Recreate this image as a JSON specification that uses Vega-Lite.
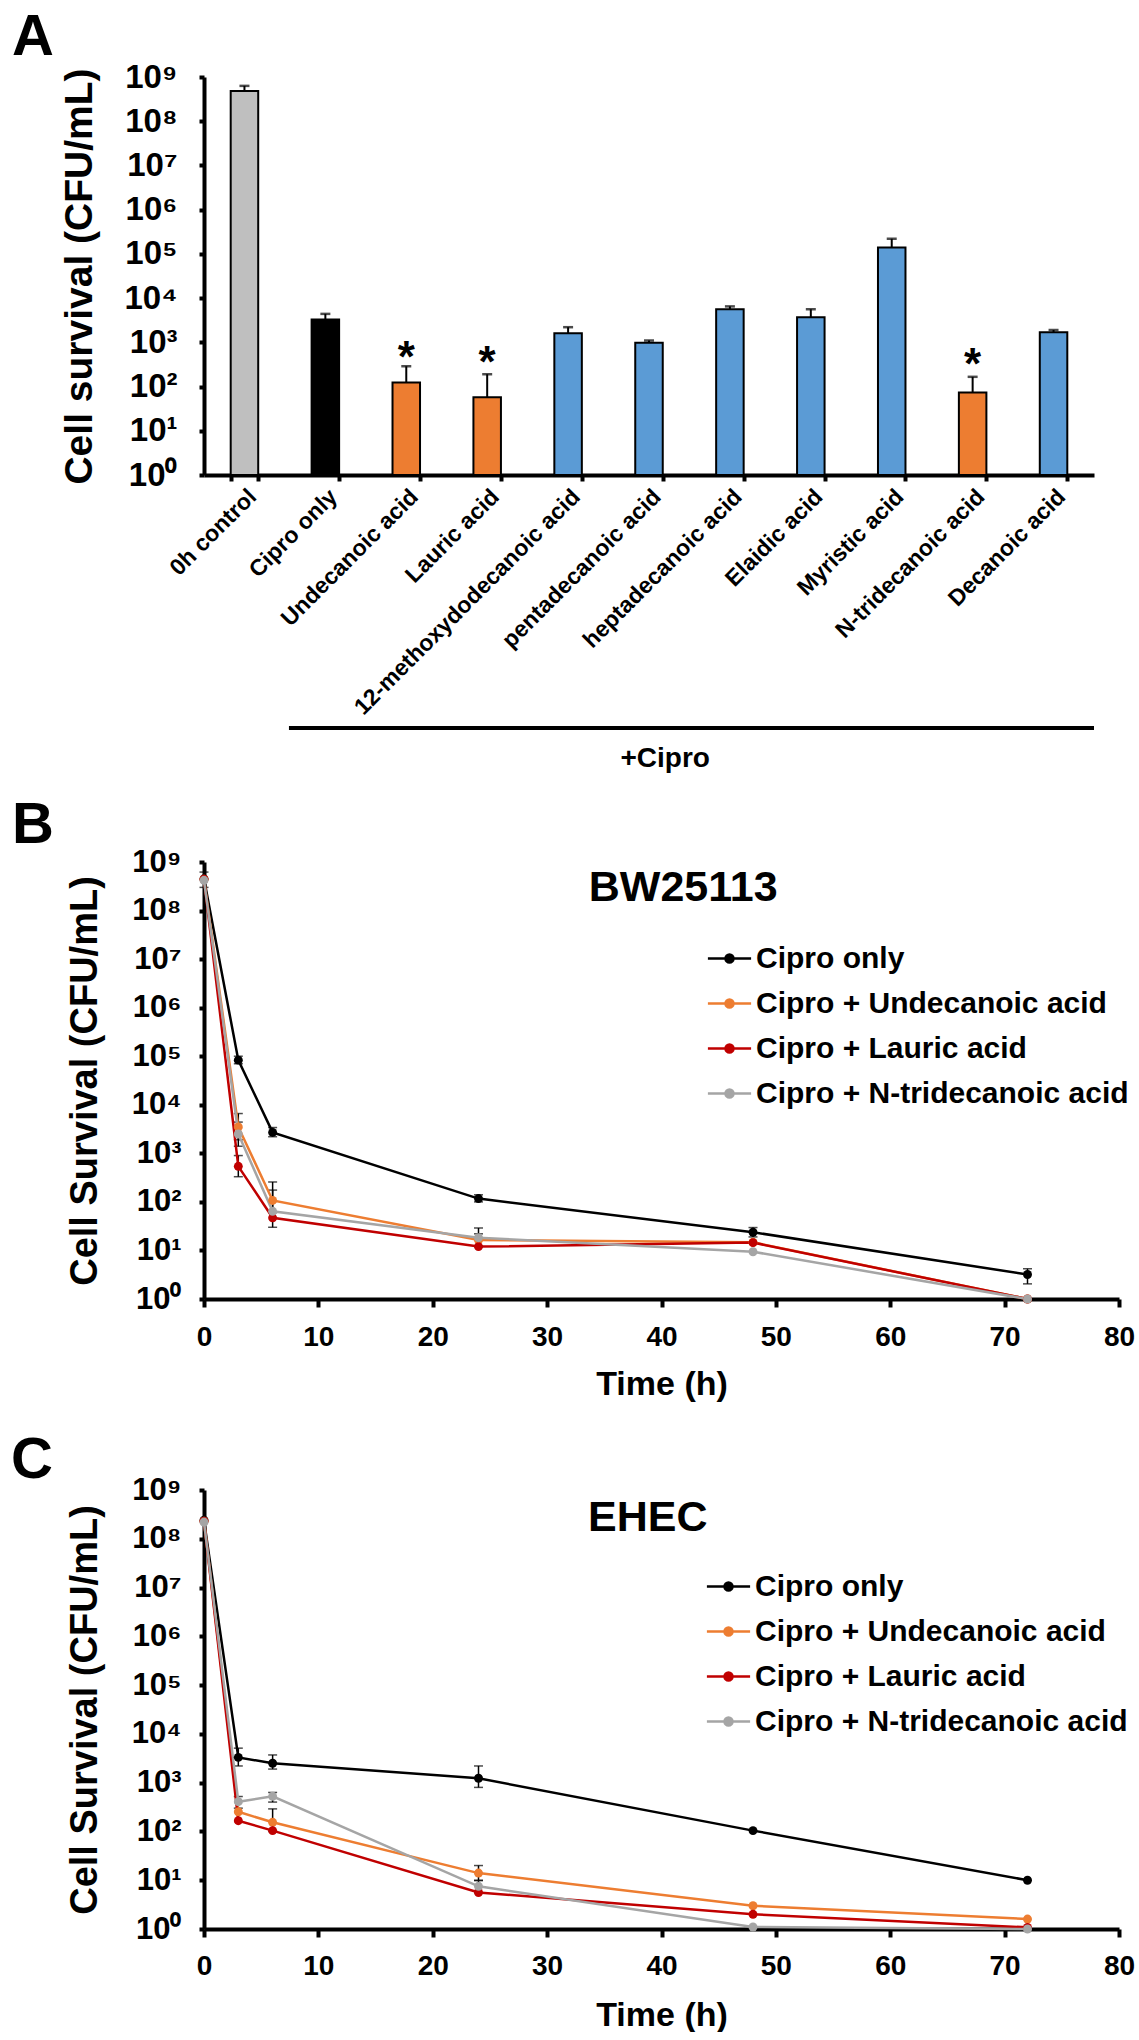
{
"$schema":"https://vega.github.io/schema/vega-lite/v6.json",
"background":"white",
"padding":{"left":11,"top":9,"right":0,"bottom":0},
"config":{
 "font":"Liberation Sans",
 "view":{"stroke":null},
 "axis":{"domainColor":"#000","domainWidth":4,"tickColor":"#000","tickWidth":4,"tickSize":6,"labelColor":"#000","labelFontWeight":"bold","titleColor":"#000","titleFontWeight":"bold","grid":false,"labelFlush":false,"labelOverlap":false,"labelLimit":0},
 "title":{"color":"#000","fontWeight":"bold","fontSize":58,"anchor":"start","frame":"group","baseline":"bottom"}
},
"datasets":{
 "bars":[
  {"c":"0h control","v":480000000,"hi":630000000,"g":"control"},
  {"c":"Cipro only","v":3300,"hi":4400,"g":"cipro"},
  {"c":"Undecanoic acid","v":124,"hi":288,"g":"sig","star":420},
  {"c":"Lauric acid","v":57,"hi":190,"g":"sig","star":325},
  {"c":"12-methoxydodecanoic acid","v":1600,"hi":2200,"g":"ns"},
  {"c":"pentadecanoic acid","v":980,"hi":1100,"g":"ns"},
  {"c":"heptadecanoic acid","v":5600,"hi":6500,"g":"ns"},
  {"c":"Elaidic acid","v":3700,"hi":5600,"g":"ns"},
  {"c":"Myristic acid","v":140000,"hi":220000,"g":"ns"},
  {"c":"N-tridecanoic acid","v":73,"hi":166,"g":"sig","star":293},
  {"c":"Decanoic acid","v":1700,"hi":1900,"g":"ns"}
 ],
 "bracket":[
  {"kind":"line","x":1.05,"x2":11,"v":0.0000019},
  {"kind":"text","x":5.7,"v":0.00000025,"label":"+Cipro"}
 ],
 "B":[
  {"s":"Cipro only","t":0,"v":450000000,"lo":300000000,"hi":620000000},
  {"s":"Cipro only","t":3,"v":83000,"lo":70000,"hi":100000},
  {"s":"Cipro only","t":6,"v":2700,"lo":2200,"hi":3400},
  {"s":"Cipro only","t":24,"v":117,"lo":100,"hi":140},
  {"s":"Cipro only","t":48,"v":23.7,"lo":19,"hi":29.6},
  {"s":"Cipro only","t":72,"v":3.2,"lo":2.05,"hi":4.2},
  {"s":"Cipro + Undecanoic acid","t":0,"v":440000000},
  {"s":"Cipro + Undecanoic acid","t":3,"v":3500,"lo":1900,"hi":6600},
  {"s":"Cipro + Undecanoic acid","t":6,"v":107,"lo":60,"hi":257},
  {"s":"Cipro + Undecanoic acid","t":24,"v":16.4,"lo":12,"hi":22},
  {"s":"Cipro + Undecanoic acid","t":48,"v":14.7},
  {"s":"Cipro + Undecanoic acid","t":72,"v":1},
  {"s":"Cipro + Lauric acid","t":0,"v":440000000},
  {"s":"Cipro + Lauric acid","t":3,"v":540,"lo":330,"hi":900},
  {"s":"Cipro + Lauric acid","t":6,"v":47},
  {"s":"Cipro + Lauric acid","t":24,"v":12},
  {"s":"Cipro + Lauric acid","t":48,"v":14.5},
  {"s":"Cipro + Lauric acid","t":72,"v":1},
  {"s":"Cipro + N-tridecanoic acid","t":0,"v":420000000},
  {"s":"Cipro + N-tridecanoic acid","t":3,"v":2500,"lo":1400,"hi":4400},
  {"s":"Cipro + N-tridecanoic acid","t":6,"v":64,"lo":30,"hi":175},
  {"s":"Cipro + N-tridecanoic acid","t":24,"v":18.3,"lo":12,"hi":29},
  {"s":"Cipro + N-tridecanoic acid","t":48,"v":9.4},
  {"s":"Cipro + N-tridecanoic acid","t":72,"v":1}
 ],
 "C":[
  {"s":"Cipro only","t":0,"v":240000000},
  {"s":"Cipro only","t":3,"v":3300,"lo":2200,"hi":5100},
  {"s":"Cipro only","t":6,"v":2500,"lo":1900,"hi":3700},
  {"s":"Cipro only","t":24,"v":1230,"lo":800,"hi":2200},
  {"s":"Cipro only","t":48,"v":104},
  {"s":"Cipro only","t":72,"v":10},
  {"s":"Cipro + Undecanoic acid","t":0,"v":230000000},
  {"s":"Cipro + Undecanoic acid","t":3,"v":253},
  {"s":"Cipro + Undecanoic acid","t":6,"v":154,"lo":100,"hi":290},
  {"s":"Cipro + Undecanoic acid","t":24,"v":14,"lo":10,"hi":20},
  {"s":"Cipro + Undecanoic acid","t":48,"v":3.0},
  {"s":"Cipro + Undecanoic acid","t":72,"v":1.6},
  {"s":"Cipro + Lauric acid","t":0,"v":230000000},
  {"s":"Cipro + Lauric acid","t":3,"v":166},
  {"s":"Cipro + Lauric acid","t":6,"v":104},
  {"s":"Cipro + Lauric acid","t":24,"v":5.6},
  {"s":"Cipro + Lauric acid","t":48,"v":2.0},
  {"s":"Cipro + Lauric acid","t":72,"v":1.08},
  {"s":"Cipro + N-tridecanoic acid","t":0,"v":220000000},
  {"s":"Cipro + N-tridecanoic acid","t":3,"v":407,"lo":300,"hi":520},
  {"s":"Cipro + N-tridecanoic acid","t":6,"v":525,"lo":400,"hi":630},
  {"s":"Cipro + N-tridecanoic acid","t":24,"v":7.5,"lo":5.5,"hi":9.8},
  {"s":"Cipro + N-tridecanoic acid","t":48,"v":1.1},
  {"s":"Cipro + N-tridecanoic acid","t":72,"v":1}
 ]
},
"vconcat":[
 {
  "width":890,"height":398,
  "title":{"text":"A","offset":-6,"dx":-192},
  "layer":[
   {
    "data":{"name":"bars"},
    "encoding":{
     "x":{"field":"c","type":"nominal","sort":null,"scale":{"paddingInner":0.66,"paddingOuter":0.33},"axis":{"title":null,"labelAngle":-45,"labelFontSize":23,"tickBand":"extent","labelPadding":4}},
     "y":{"field":"v","type":"quantitative","scale":{"type":"log","domain":[1,1000000000],"nice":false},"axis":{"title":"Cell survival (CFU/mL)","titleFontSize":39,"labelFontSize":33,"values":[1,10,100,1000,10000,100000,1000000,10000000,100000000,1000000000],"labelExpr":"'10' + ['⁰','¹','²','³','⁴','⁵','⁶','⁷','⁸','⁹'][round(log(datum.value)/LN10)]","tickSize":5,"labelPadding":22,"titlePadding":24}}
    },
    "layer":[
     {"mark":{"type":"bar","stroke":"#000","strokeWidth":2},"encoding":{"y2":{"datum":1},"fill":{"field":"g","type":"nominal","scale":{"domain":["control","cipro","sig","ns"],"range":["#BFBFBF","#000000","#ED7D31","#5B9BD5"]},"legend":null}}},
     {"mark":{"type":"rule","color":"#000","strokeWidth":2},"encoding":{"y2":{"field":"hi"}}},
     {"mark":{"type":"tick","orient":"horizontal","color":"#000","size":10,"thickness":2.5},"encoding":{"y":{"field":"hi","type":"quantitative","scale":{"type":"log","domain":[1,1000000000]}}}},
     {"transform":[{"filter":"isValid(datum.star)"}],"mark":{"type":"text","text":"*","fontSize":44,"fontWeight":"bold","baseline":"middle","color":"#000"},"encoding":{"y":{"field":"star","type":"quantitative","scale":{"type":"log","domain":[1,1000000000]}}}}
    ]
   },
   {
    "data":{"name":"bracket"},
    "encoding":{
     "x":{"field":"x","type":"quantitative","scale":{"domain":[0,11],"nice":false,"zero":false},"axis":null},
     "y":{"field":"v","type":"quantitative","scale":{"type":"log","domain":[1,1000000000]}}
    },
    "layer":[
     {"transform":[{"filter":"datum.kind==='line'"}],"mark":{"type":"rule","color":"#000","strokeWidth":4},"encoding":{"x2":{"field":"x2"}}},
     {"transform":[{"filter":"datum.kind==='text'"}],"mark":{"type":"text","fontSize":28,"fontWeight":"bold","baseline":"alphabetic","color":"#000"},"encoding":{"text":{"field":"label"}}}
    ]
   }
  ],
  "resolve":{"scale":{"x":"independent"}}
 },
 {
  "vconcat":[
   {
    "width":915,"height":437,
    "title":{"text":"B","offset":-9,"dx":-192},
    "data":{"name":"B"},
    "encoding":{
     "x":{"field":"t","type":"quantitative","scale":{"domain":[0,80],"nice":false},"axis":{"title":"Time (h)","titleFontSize":34,"labelFontSize":28,"values":[0,10,20,30,40,50,60,70,80],"tickSize":8,"labelPadding":16,"titlePadding":16}},
     "y":{"field":"v","type":"quantitative","scale":{"type":"log","domain":[1,1000000000],"nice":false},"axis":{"title":"Cell Survival (CFU/mL)","titleFontSize":38,"labelFontSize":31,"values":[1,10,100,1000,10000,100000,1000000,10000000,100000000,1000000000],"labelExpr":"'10' + ['⁰','¹','²','³','⁴','⁵','⁶','⁷','⁸','⁹'][round(log(datum.value)/LN10)]","tickSize":5,"labelPadding":18,"titlePadding":27}}
    },
    "layer":[
     {"transform":[{"filter":"isValid(datum.lo)"}],"mark":{"type":"rule","color":"#000","strokeWidth":1.5},"encoding":{"y":{"field":"lo","type":"quantitative","scale":{"type":"log","domain":[1,1000000000]}},"y2":{"field":"hi"}}},
     {"transform":[{"filter":"isValid(datum.lo)"}],"mark":{"type":"tick","orient":"horizontal","color":"#000","size":9,"thickness":1.5},"encoding":{"y":{"field":"hi","type":"quantitative","scale":{"type":"log","domain":[1,1000000000]}}}},
     {"transform":[{"filter":"isValid(datum.lo)"}],"mark":{"type":"tick","orient":"horizontal","color":"#000","size":9,"thickness":1.5},"encoding":{"y":{"field":"lo","type":"quantitative","scale":{"type":"log","domain":[1,1000000000]}}}},
     {"mark":{"type":"line","strokeWidth":2.5},"encoding":{"color":{"field":"s","type":"nominal","scale":{"domain":["Cipro only","Cipro + Undecanoic acid","Cipro + Lauric acid","Cipro + N-tridecanoic acid"],"range":["#000000","#ED7D31","#C00000","#A5A5A5"]},"legend":{"orient":"none","legendX":504,"legendY":75,"title":null,"symbolType":"M-1.08,0H1.08M0.2,0A0.2,0.2,0,1,1,-0.2,0A0.2,0.2,0,1,1,0.2,0Z","symbolSize":1600,"symbolStrokeWidth":2.5,"labelFontSize":30,"labelFontWeight":"bold","labelColor":"#000","labelLimit":0,"labelOffset":5,"rowPadding":8,"padding":0,"encode":{"symbols":{"update":{"stroke":{"signal":"datum.value==='Cipro only'?'#000000':datum.value==='Cipro + Undecanoic acid'?'#ED7D31':datum.value==='Cipro + Lauric acid'?'#C00000':'#A5A5A5'"},"fill":{"signal":"datum.value==='Cipro only'?'#000000':datum.value==='Cipro + Undecanoic acid'?'#ED7D31':datum.value==='Cipro + Lauric acid'?'#C00000':'#A5A5A5'"},"opacity":{"value":1}}}}}}}},
     {"mark":{"type":"point","filled":true,"size":80,"opacity":1},"encoding":{"color":{"field":"s","type":"nominal","scale":{"domain":["Cipro only","Cipro + Undecanoic acid","Cipro + Lauric acid","Cipro + N-tridecanoic acid"],"range":["#000000","#ED7D31","#C00000","#A5A5A5"]}}}},
     {"data":{"values":[{"label":"BW25113","t":41.9,"v":156000000}]},"mark":{"type":"text","fontSize":43,"fontWeight":"bold","color":"#000","baseline":"alphabetic","align":"center"},"encoding":{"text":{"field":"label"}}}
    ]
   },
   {
    "width":915,"height":439,
    "title":{"text":"C","offset":-16,"dx":-193},
    "data":{"name":"C"},
    "encoding":{
     "x":{"field":"t","type":"quantitative","scale":{"domain":[0,80],"nice":false},"axis":{"title":"Time (h)","titleFontSize":34,"labelFontSize":28,"values":[0,10,20,30,40,50,60,70,80],"tickSize":8,"labelPadding":15,"titlePadding":18}},
     "y":{"field":"v","type":"quantitative","scale":{"type":"log","domain":[1,1000000000],"nice":false},"axis":{"title":"Cell Survival (CFU/mL)","titleFontSize":38,"labelFontSize":31,"values":[1,10,100,1000,10000,100000,1000000,10000000,100000000,1000000000],"labelExpr":"'10' + ['⁰','¹','²','³','⁴','⁵','⁶','⁷','⁸','⁹'][round(log(datum.value)/LN10)]","tickSize":5,"labelPadding":18,"titlePadding":27}}
    },
    "layer":[
     {"transform":[{"filter":"isValid(datum.lo)"}],"mark":{"type":"rule","color":"#000","strokeWidth":1.5},"encoding":{"y":{"field":"lo","type":"quantitative","scale":{"type":"log","domain":[1,1000000000]}},"y2":{"field":"hi"}}},
     {"transform":[{"filter":"isValid(datum.lo)"}],"mark":{"type":"tick","orient":"horizontal","color":"#000","size":9,"thickness":1.5},"encoding":{"y":{"field":"hi","type":"quantitative","scale":{"type":"log","domain":[1,1000000000]}}}},
     {"transform":[{"filter":"isValid(datum.lo)"}],"mark":{"type":"tick","orient":"horizontal","color":"#000","size":9,"thickness":1.5},"encoding":{"y":{"field":"lo","type":"quantitative","scale":{"type":"log","domain":[1,1000000000]}}}},
     {"mark":{"type":"line","strokeWidth":2.5},"encoding":{"color":{"field":"s","type":"nominal","scale":{"domain":["Cipro only","Cipro + Undecanoic acid","Cipro + Lauric acid","Cipro + N-tridecanoic acid"],"range":["#000000","#ED7D31","#C00000","#A5A5A5"]},"legend":{"orient":"none","legendX":503,"legendY":75,"title":null,"symbolType":"M-1.08,0H1.08M0.2,0A0.2,0.2,0,1,1,-0.2,0A0.2,0.2,0,1,1,0.2,0Z","symbolSize":1600,"symbolStrokeWidth":2.5,"labelFontSize":30,"labelFontWeight":"bold","labelColor":"#000","labelLimit":0,"labelOffset":5,"rowPadding":8,"padding":0,"encode":{"symbols":{"update":{"stroke":{"signal":"datum.value==='Cipro only'?'#000000':datum.value==='Cipro + Undecanoic acid'?'#ED7D31':datum.value==='Cipro + Lauric acid'?'#C00000':'#A5A5A5'"},"fill":{"signal":"datum.value==='Cipro only'?'#000000':datum.value==='Cipro + Undecanoic acid'?'#ED7D31':datum.value==='Cipro + Lauric acid'?'#C00000':'#A5A5A5'"},"opacity":{"value":1}}}}}}}},
     {"mark":{"type":"point","filled":true,"size":80,"opacity":1},"encoding":{"color":{"field":"s","type":"nominal","scale":{"domain":["Cipro only","Cipro + Undecanoic acid","Cipro + Lauric acid","Cipro + N-tridecanoic acid"],"range":["#000000","#ED7D31","#C00000","#A5A5A5"]}}}},
     {"data":{"values":[{"label":"EHEC","t":38.8,"v":145000000}]},"mark":{"type":"text","fontSize":43,"fontWeight":"bold","color":"#000","baseline":"alphabetic","align":"center"},"encoding":{"text":{"field":"label"}}}
    ]
   }
  ],
  "spacing":191,
  "bounds":"flush",
  "resolve":{"scale":{"color":"independent"},"legend":{"color":"independent"}}
 }
],
"spacing":387,
"bounds":"flush",
"resolve":{"scale":{"color":"independent","fill":"independent"},"legend":{"color":"independent","fill":"independent"}}
}
